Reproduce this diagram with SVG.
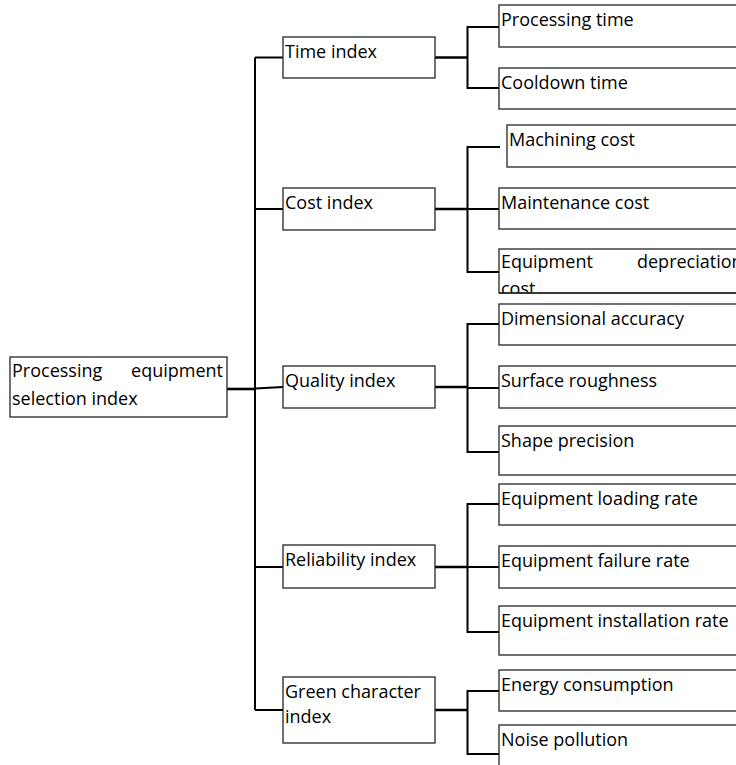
<svg xmlns="http://www.w3.org/2000/svg" width="736" height="765" viewBox="0 0 736 765">
<style>
  .box { fill: #ffffff; stroke: #262626; stroke-width: 1.3; }
  .lbl { font-family: "Open Sans", "Liberation Sans", sans-serif; font-size: 18px; fill: #000000; }
  .conn { fill: none; stroke: #000000; stroke-width: 2; }
  .thick { fill: none; stroke: #000000; stroke-width: 2.6; }
</style>
<defs>
  <clipPath id="clipDep"><rect x="499" y="249" width="260" height="44"/></clipPath>
</defs>
<rect x="0" y="0" width="736" height="765" fill="#ffffff"/>

<g id="connectors">
  <!-- root to trunk -->
  <path class="thick" d="M227 389 H255"/>
  <!-- trunk -->
  <path class="conn" d="M255 57.5 V710"/>
  <path class="conn" d="M255 57.5 H283"/>
  <path class="conn" d="M255 209 H283"/>
  <path class="conn" d="M255 388.5 L283 387"/>
  <path class="conn" d="M255 567 H283"/>
  <path class="conn" d="M255 710 H283"/>
  <!-- time branch -->
  <path class="thick" d="M435 57.5 H467.5"/>
  <path class="conn" d="M499 27 H467.5 V88 H499"/>
  <!-- cost branch -->
  <path class="thick" d="M435 209 H467.5"/>
  <path class="conn" d="M500 147 H467.5 V272 H499"/>
  <path class="conn" d="M467.5 209 H499"/>
  <!-- quality branch -->
  <path class="thick" d="M435 387 H467.5"/>
  <path class="conn" d="M499 324 H467.5 V452 H499"/>
  <path class="conn" d="M467.5 388 H499"/>
  <!-- reliability branch -->
  <path class="thick" d="M435 567 H467.5"/>
  <path class="conn" d="M499 504 H467.5 V632 H499"/>
  <path class="conn" d="M467.5 567 H499"/>
  <!-- green branch -->
  <path class="thick" d="M435 710 H467.5"/>
  <path class="conn" d="M499 691 H467.5 V754 H499"/>
</g>

<g id="root">
  <rect class="box" x="10" y="357" width="217" height="60"/>
  <text class="lbl" x="12" y="377">Processing</text>
  <text class="lbl" x="223" y="377" text-anchor="end">equipment</text>
  <text class="lbl" x="12" y="405">selection index</text>
</g>

<g id="time-index">
  <rect class="box" x="283" y="37" width="152" height="41"/>
  <text class="lbl" x="285" y="58">Time index</text>
</g>
<g id="cost-index">
  <rect class="box" x="283" y="188" width="152" height="42"/>
  <text class="lbl" x="285" y="209">Cost index</text>
</g>
<g id="quality-index">
  <rect class="box" x="283" y="366" width="152" height="42"/>
  <text class="lbl" x="285" y="387">Quality index</text>
</g>
<g id="reliability-index">
  <rect class="box" x="283" y="545" width="152" height="43"/>
  <text class="lbl" x="285" y="566">Reliability index</text>
</g>
<g id="green-index">
  <rect class="box" x="283" y="677" width="152" height="66"/>
  <text class="lbl" x="285" y="698">Green character</text>
  <text class="lbl" x="285" y="723">index</text>
</g>

<g id="processing-time">
  <rect class="box" x="499" y="5" width="260" height="42"/>
  <text class="lbl" x="501" y="26">Processing time</text>
</g>
<g id="cooldown-time">
  <rect class="box" x="499" y="68" width="260" height="41"/>
  <text class="lbl" x="501" y="89">Cooldown time</text>
</g>
<g id="machining-cost">
  <rect class="box" x="507" y="125" width="260" height="42"/>
  <text class="lbl" x="509" y="146">Machining cost</text>
</g>
<g id="maintenance-cost">
  <rect class="box" x="499" y="188" width="260" height="41"/>
  <text class="lbl" x="501" y="209">Maintenance cost</text>
</g>
<g id="depreciation-cost">
  <rect class="box" x="499" y="249" width="260" height="44"/>
  <g clip-path="url(#clipDep)">
    <text class="lbl" x="501" y="268">Equipment</text>
    <text class="lbl" x="637" y="268">depreciation</text>
    <text class="lbl" x="501" y="295">cost</text>
  </g>
  <path d="M499 293 H760" stroke="#262626" stroke-width="1.3" fill="none"/>
</g>
<g id="dimensional-accuracy">
  <rect class="box" x="499" y="304" width="260" height="41"/>
  <text class="lbl" x="501" y="325">Dimensional accuracy</text>
</g>
<g id="surface-roughness">
  <rect class="box" x="499" y="366" width="260" height="42"/>
  <text class="lbl" x="501" y="387">Surface roughness</text>
</g>
<g id="shape-precision">
  <rect class="box" x="499" y="426" width="260" height="49"/>
  <text class="lbl" x="501" y="447">Shape precision</text>
</g>
<g id="loading-rate">
  <rect class="box" x="499" y="484" width="260" height="41"/>
  <text class="lbl" x="501" y="505">Equipment loading rate</text>
</g>
<g id="failure-rate">
  <rect class="box" x="499" y="546" width="260" height="42"/>
  <text class="lbl" x="501" y="567">Equipment failure rate</text>
</g>
<g id="installation-rate">
  <rect class="box" x="499" y="606" width="260" height="49"/>
  <text class="lbl" x="501" y="627">Equipment installation rate</text>
</g>
<g id="energy-consumption">
  <rect class="box" x="499" y="670" width="260" height="41"/>
  <text class="lbl" x="501" y="691">Energy consumption</text>
</g>
<g id="noise-pollution">
  <rect class="box" x="499" y="725" width="260" height="60"/>
  <text class="lbl" x="501" y="746">Noise pollution</text>
</g>
</svg>
